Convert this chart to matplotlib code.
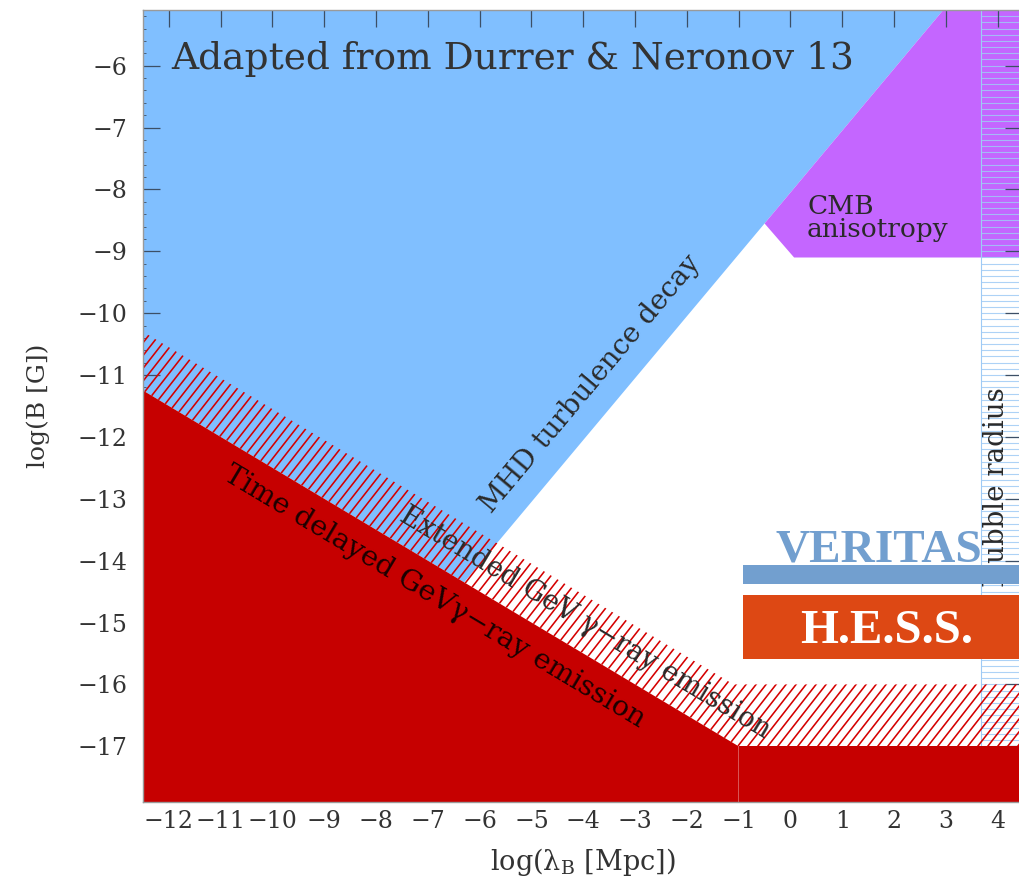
import numpy as np
import matplotlib.pyplot as plt
from matplotlib.patches import Polygon, Rectangle
from matplotlib.collections import LineCollection
from matplotlib.ticker import MultipleLocator

plt.rcParams['font.family'] = ['DejaVu Serif']
plt.rcParams['mathtext.fontset'] = 'dejavuserif'

# log10(lambda_B / Mpc) and log10(B / G) ranges
x_range = (-12.5, 4.47)
y_range = (-17.9, -5.1)

# time delayed GeV emission bound (solid), knee at 0.1 Mpc
delay_x = [-12.5, -1.0, 4.5]
delay_y = [-11.25, -17.0, -17.0]

# extended GeV emission bound (hatched)
ext_x = [-12.5, -1.1, 4.5]
ext_y = [-10.3, -16.0, -16.0]

# MHD turbulence decay limit
mhd_x = [-6.3, 3.15]
mhd_y = [-14.35, -4.9]

# CMB anisotropy exclusion
cmb_x = [-0.5, 0.07, 4.5, 4.5, 3.15]
cmb_y = [-8.55, -9.1, -9.1, -4.9, -4.9]

hubble_x = 3.68
hubble_step = 0.1

# instrument bands
inst_x0 = -0.92
veritas_band = (-14.38, -14.07)
hess_band = (-15.59, -14.56)

BLUE = '#80bfff'
PURPLE = '#c466ff'
RED = '#c60000'
HATCH = '#d40000'
TXT = '#2a2a2a'

fig = plt.figure(figsize=(10.19, 8.83), dpi=100)
W, H = 879, 792
ax = fig.add_axes([143 / 1019, 1 - 802 / 883, W / 1019, H / 883])
ax.set_xlim(*x_range)
ax.set_ylim(*y_range)

xmin, xmax = x_range
ymin, ymax = y_range

# MHD region (blue), sits under the gamma-ray bounds
blue = Polygon([(xmin, mhd_y[1]), (mhd_x[1], mhd_y[1]), (mhd_x[0], mhd_y[0]),
                (delay_x[0], delay_y[0])], closed=True, facecolor=BLUE,
               edgecolor='none', zorder=1)
ax.add_patch(blue)

cmb = Polygon(list(zip(cmb_x, cmb_y)), closed=True, facecolor=PURPLE,
              edgecolor='none', zorder=1)
ax.add_patch(cmb)

# Hubble radius band: thin horizontal lines
yy = np.arange(ymin, ymax, hubble_step)
ax.hlines(yy, hubble_x, xmax + 0.1, color='#9fcaf5', lw=0.8, alpha=0.85, zorder=1.5)
ax.axvline(hubble_x, color='#9fcaf5', lw=0.8, zorder=1.5)

# hatched extended-emission region
hatch_poly = Polygon(list(zip(ext_x, ext_y)) + list(zip(delay_x, delay_y))[::-1],
                     closed=True, facecolor='none', edgecolor='none')
ax.add_patch(hatch_poly)
ang = np.radians(52)
step = 10.0 / W
rise = (H / np.tan(ang)) / W
x0s = np.arange(-rise - step, 1 + step, step)
segs = [[(x0, 0), (x0 + rise, 1)] for x0 in x0s]
lc = LineCollection(segs, colors=HATCH, linewidths=1.15, transform=ax.transAxes, zorder=2)
lc.set_clip_path(hatch_poly)
ax.add_collection(lc)

# time-delayed emission region (solid red), two pieces
ax.add_patch(Polygon([(delay_x[0], delay_y[0]), (delay_x[1], delay_y[1]),
                      (delay_x[1], ymin - 1), (delay_x[0], ymin - 1)],
                     closed=True, facecolor=RED, edgecolor='none', zorder=2.2))
ax.add_patch(Polygon([(delay_x[1], delay_y[1]), (delay_x[2], delay_y[2]),
                      (delay_x[2], ymin - 1), (delay_x[1], ymin - 1)],
                     closed=True, facecolor=RED, edgecolor='none', zorder=2.2))


def screen_angle(xs, ys):
    p = ax.transData.transform(list(zip(xs, ys)))
    return np.degrees(np.arctan2(p[1, 1] - p[0, 1], p[1, 0] - p[0, 0]))


a_mhd = screen_angle(mhd_x, mhd_y)
a_del = screen_angle(delay_x[:2], delay_y[:2])

ax.text(-11.95, -6.05, 'Adapted from Durrer & Neronov 13', fontsize=27,
        color='#333333', ha='left', va='baseline', zorder=5)
ax.text(-3.85, -11.14, 'MHD turbulence decay', rotation=a_mhd, rotation_mode='anchor',
        ha='center', va='center', fontsize=20, color=TXT, zorder=3)
ax.text(-6.88, -14.59, 'Time delayed GeV\u03b3\u2212ray emission', rotation=a_del,
        rotation_mode='anchor', ha='center', va='center', fontsize=20.5, color='#1a0000', zorder=3)
ax.text(-3.97, -15.0, 'Extended GeV \u03b3\u2212ray emission', rotation=a_del,
        rotation_mode='anchor', ha='center', va='center', fontsize=20, color=TXT, zorder=3)
ax.text(0.32, -8.39, 'CMB', fontsize=19, color=TXT, ha='left', va='baseline', zorder=3)
ax.text(0.32, -8.77, 'anisotropy', fontsize=19, color=TXT, ha='left', va='baseline', zorder=3)
ax.text(3.97, -12.81, 'Hubble radius', rotation=90, ha='center', va='center',
        fontsize=20, color=TXT, zorder=2.6)

# instrument sensitivity bands
ax.add_patch(Rectangle((inst_x0, veritas_band[0]), xmax + 1 - inst_x0,
                       veritas_band[1] - veritas_band[0], facecolor='#729fcf',
                       edgecolor='none', zorder=4))
ax.add_patch(Rectangle((inst_x0, hess_band[0]), xmax + 1 - inst_x0,
                       hess_band[1] - hess_band[0], facecolor='#dd4814',
                       edgecolor='none', zorder=4))
ax.text(1.71, -14.02, 'VERITAS', family='Liberation Serif', weight='bold', fontsize=34,
        color='#729fcf', ha='center', va='baseline', zorder=4)
ax.text(1.85, -15.33, 'H.E.S.S.', family='Liberation Serif', weight='bold', fontsize=35,
        color='white', ha='center', va='baseline', zorder=5)

# axes styling
ax.xaxis.set_major_locator(MultipleLocator(1))
ax.yaxis.set_major_locator(MultipleLocator(1))
ax.yaxis.set_minor_locator(MultipleLocator(0.2))
ax.tick_params(axis='both', which='major', direction='in', length=12, width=0.9,
               color='#3c4f66', labelsize=17, labelcolor='#333333')
ax.tick_params(axis='x', which='both', bottom=False, top=True, pad=6)
ax.tick_params(axis='y', which='both', left=True, right=True, pad=11.5)
ax.tick_params(axis='y', which='minor', direction='in', length=2.5, width=0.6, color='#3c4f66')
for s in ax.spines.values():
    s.set_color('#9a9a9a')
    s.set_linewidth(1.0)

ax.set_xlabel('log(\u03bb$_\\mathrm{B}$ [Mpc])', fontsize=19.5, color='#333333')
ax.set_ylabel('log(B [G])', fontsize=18, color='#333333')
ax.xaxis.set_label_coords(0.5, -0.056)
ax.yaxis.set_label_coords(-0.106, 0.5)

fig.savefig('out.png', dpi=100)
